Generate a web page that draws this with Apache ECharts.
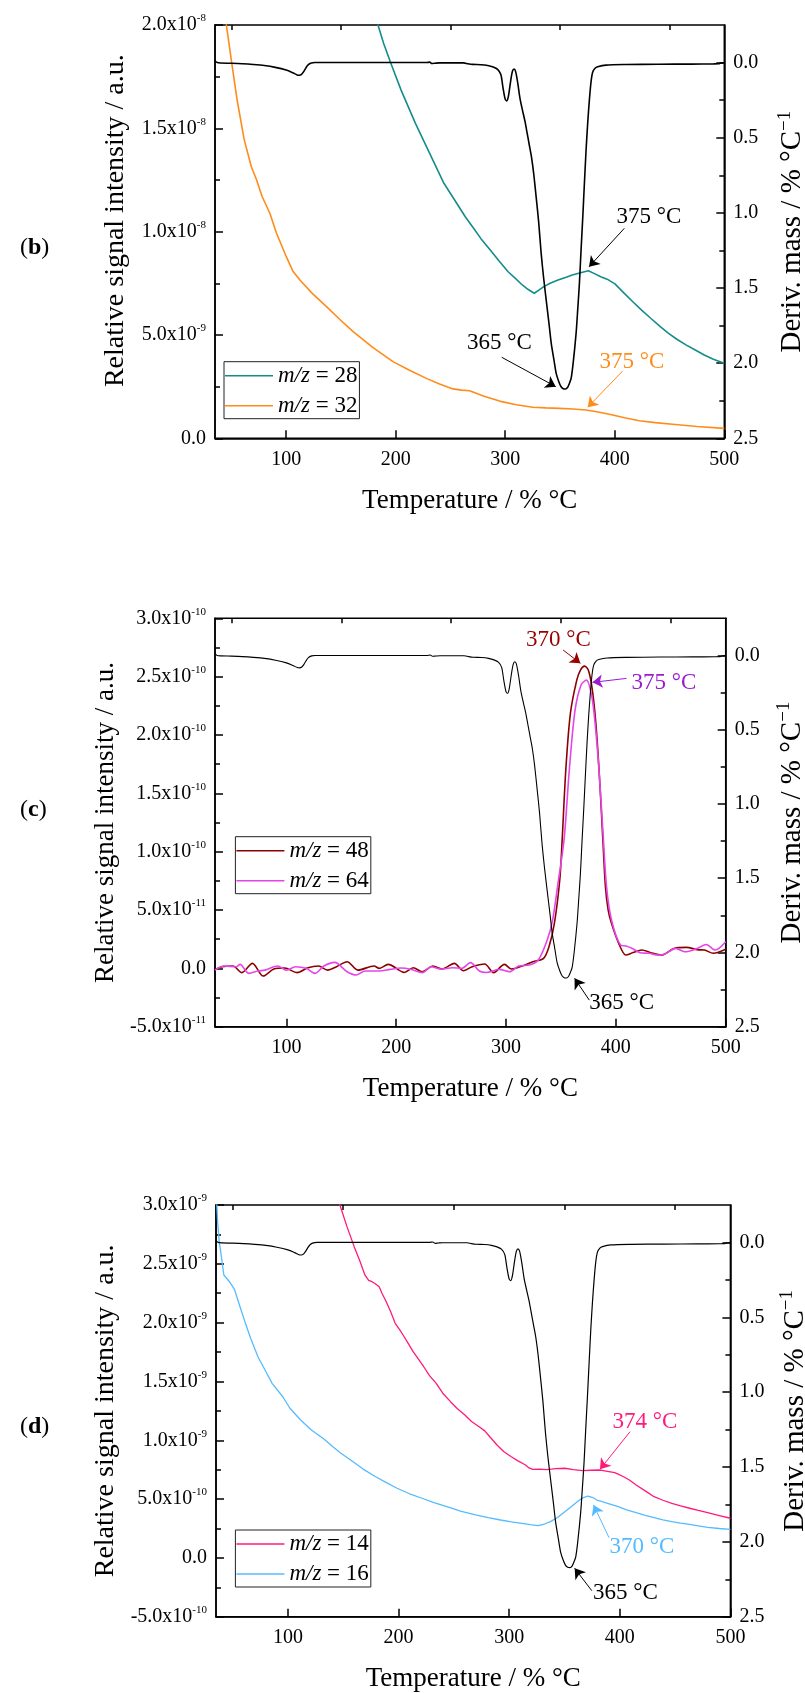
<!DOCTYPE html>
<html><head><meta charset="utf-8">
<script src="https://cdn.jsdelivr.net/npm/echarts@6/dist/echarts.min.js"></script>
<style>html,body{margin:0;padding:0;background:#fff}#c{width:805px;height:1693px}</style>
</head><body><div id="c"></div>
<script>
// ---------------- data ----------------
const xMajor = [100, 200, 300, 400, 500];
const xMinor = [50, 150, 250, 350, 450];
const rightMajor = [0, 0.5, 1.0, 1.5, 2.0, 2.5];
const rightMinor = [0.25, 0.75, 1.25, 1.75, 2.25];
const leftMajorB = [0, 5e-9, 1e-8, 1.5e-8, 2e-8];
const leftMinorB = [2.5e-9, 7.5e-9, 1.25e-8, 1.75e-8];
const leftMajorC = [-5e-11, 0, 5e-11, 1e-10, 1.5e-10, 2e-10, 2.5e-10, 3e-10];
const leftMinorC = [-2.5e-11, 2.5e-11, 7.5e-11, 1.25e-10, 1.75e-10, 2.25e-10, 2.75e-10];
const leftMajorD = [-5e-10, 0, 5e-10, 1e-9, 1.5e-9, 2e-9, 2.5e-9, 3e-9];
const leftMinorD = [-2.5e-10, 2.5e-10, 7.5e-10, 1.25e-9, 1.75e-9, 2.25e-9, 2.75e-9];

// DTG (Deriv. mass / % °C^-1), same sample in all three panels
const dtg = [[35,-0.012],[37,0.0],[40,0.003],[50,0.005],[60,0.008],[70,0.013],[80,0.02],[90,0.032],[100,0.05],[106,0.068],[110,0.082],[112,0.084],[114,0.078],[116,0.06],[118,0.035],[120,0.015],[123,0.003],[126,0.0],[150,0.0],[200,0.0],[228,0.0],[231,-0.003],[233,0.006],[236,0.004],[240,0.002],[262,0.002],[266,0.008],[270,0.012],[278,0.014],[284,0.02],[289,0.03],[293,0.045],[296,0.08],[298,0.17],[300,0.245],[301.5,0.255],[303,0.22],[305,0.12],[306.5,0.06],[308,0.043],[309.5,0.06],[311.5,0.14],[313.5,0.24],[315.7,0.316],[318,0.39],[320,0.47],[322,0.55],[324,0.63],[326,0.74],[328.3,0.9],[330.5,1.06],[332.8,1.27],[335,1.43],[337.4,1.58],[340,1.74],[342,1.868],[344.5,1.98],[346.5,2.068],[349,2.125],[351,2.157],[353,2.17],[355,2.172],[357,2.16],[358.8,2.13],[360.2,2.1],[362,2.0],[364.7,1.8],[366.2,1.64],[367.7,1.47],[369.2,1.25],[370.8,1.026],[372.3,0.8],[373.8,0.582],[375.3,0.4],[376.8,0.25],[378.3,0.13],[379.8,0.065],[382,0.038],[384.4,0.028],[392,0.017],[410,0.013],[440,0.011],[470,0.01],[490,0.009],[495,0.008],[497,0.002],[500,0.001]];

// panel (b)
const mz28 = [[180,2.12e-8],[183.8,2.0e-8],[189,1.91e-8],[195.2,1.82e-8],[204.9,1.685e-8],[218,1.524e-8],[231,1.379e-8],[244,1.234e-8],[253.8,1.153e-8],[263.5,1.072e-8],[270.1,1.024e-8],[278,0.965e-8],[286.3,0.911e-8],[294,0.86e-8],[302.6,0.806e-8],[309,0.775e-8],[315.6,0.742e-8],[321,0.72e-8],[326.5,0.702e-8],[330,0.715e-8],[335.2,0.734e-8],[341,0.75e-8],[348.2,0.766e-8],[355,0.778e-8],[361.2,0.79e-8],[368,0.8e-8],[375.8,0.811e-8],[381,0.798e-8],[387.2,0.782e-8],[393,0.77e-8],[400.2,0.747e-8],[408,0.705e-8],[416.5,0.661e-8],[424.5,0.62e-8],[432.8,0.581e-8],[441,0.543e-8],[449.1,0.508e-8],[457,0.478e-8],[465.4,0.451e-8],[473.5,0.427e-8],[481.7,0.403e-8],[490,0.383e-8],[500,0.363e-8]];
const mz32 = [[42,2.25e-8],[45.4,2.0e-8],[50.3,1.815e-8],[55.2,1.637e-8],[61.7,1.444e-8],[68.2,1.314e-8],[73,1.25e-8],[78,1.17e-8],[85.1,1.089e-8],[91,0.995e-8],[100,0.88e-8],[106,0.81e-8],[112.5,0.766e-8],[124,0.7e-8],[136.8,0.637e-8],[149,0.575e-8],[161.1,0.516e-8],[179,0.44e-8],[197.5,0.371e-8],[213,0.328e-8],[228,0.29e-8],[240,0.263e-8],[252.3,0.239e-8],[260,0.233e-8],[267.5,0.23e-8],[280,0.205e-8],[294.8,0.18e-8],[310,0.162e-8],[325.2,0.15e-8],[337,0.147e-8],[349.5,0.145e-8],[362,0.142e-8],[373.8,0.137e-8],[386,0.126e-8],[398.1,0.113e-8],[410,0.098e-8],[422.4,0.085e-8],[437,0.076e-8],[452.8,0.068e-8],[475,0.057e-8],[500,0.048e-8]];

// panel (c)
const mz48 = [[35,-0.09e-11],[41.5,0.14e-11],[51.3,0.2e-11],[59.4,-0.37e-11],[69.1,0.43e-11],[78.9,-0.66e-11],[88.6,-0.06e-11],[98.4,0.03e-11],[109.8,-0.37e-11],[119.6,0.05e-11],[129.3,0.2e-11],[137.5,-0.15e-11],[145.6,0.14e-11],[155.3,0.57e-11],[165.1,-0.15e-11],[179.8,0.2e-11],[184.6,0.0],[192.7,0.34e-11],[207.4,-0.35e-11],[215.5,0.05e-11],[223.7,-0.29e-11],[233.5,0.2e-11],[241.6,-0.06e-11],[252.9,0.43e-11],[261.1,-0.2e-11],[269.2,0.14e-11],[280.5,0.37e-11],[288.7,-0.37e-11],[298.5,0.34e-11],[305,-0.06e-11],[314.7,0.2e-11],[324.5,0.57e-11],[334.2,0.86e-11],[339.1,1.85e-11],[344,3.85e-11],[348.9,7.57e-11],[351.1,11.0e-11],[354.4,17.0e-11],[358.6,21.85e-11],[364.4,24.7e-11],[368,25.6e-11],[371.5,25.9e-11],[374.9,25.56e-11],[378.2,24.1e-11],[381.5,21.3e-11],[384.7,17.0e-11],[388,11.3e-11],[390.5,7.0e-11],[393,5.0e-11],[396,3.86e-11],[402.6,2.14e-11],[409.1,1.14e-11],[415.6,1.35e-11],[423.7,1.57e-11],[431.8,1.34e-11],[441.6,1.14e-11],[452.9,1.71e-11],[464.3,1.8e-11],[474.1,1.6e-11],[480.6,1.57e-11],[488.7,1.29e-11],[500,1.63e-11]];
const mz64 = [[35,-0.15e-11],[43.1,0.2e-11],[54.5,0.14e-11],[57.8,0.34e-11],[65.9,-0.43e-11],[74.1,-0.23e-11],[80.6,-0.15e-11],[92,0.2e-11],[100.1,-0.15e-11],[108.3,0.14e-11],[118,0.0],[126.1,-0.43e-11],[134.2,0.2e-11],[144,0.51e-11],[155.3,-0.29e-11],[163.5,-0.57e-11],[171.6,-0.23e-11],[184.6,-0.23e-11],[194.4,-0.09e-11],[204.2,0.03e-11],[213.9,-0.09e-11],[223.7,-0.37e-11],[231.8,0.14e-11],[240,-0.06e-11],[251.3,0.05e-11],[259.4,0.0],[267.7,0.49e-11],[275.7,-0.23e-11],[282.2,-0.35e-11],[293.6,-0.09e-11],[303.3,-0.29e-11],[311.5,0.2e-11],[321.2,0.28e-11],[329.4,0.71e-11],[337.5,2.43e-11],[342.4,4.14e-11],[347.3,7.28e-11],[352.8,11.0e-11],[357.6,17.0e-11],[362.8,22.1e-11],[368.4,24.3e-11],[373.2,24.7e-11],[378.1,23.3e-11],[381.4,20.7e-11],[384.6,17.0e-11],[388.5,11.3e-11],[391.5,7.0e-11],[396,4.14e-11],[404.2,2.0e-11],[409.1,1.91e-11],[415,1.71e-11],[422,1.34e-11],[430.2,1.29e-11],[438.5,1.14e-11],[444.8,1.23e-11],[454.6,1.71e-11],[462.7,1.42e-11],[474.1,1.71e-11],[482.3,2.05e-11],[490.4,1.57e-11],[500,2.28e-11]];

// panel (d)
const mz14 = [[145,31.0e-10],[147,30.0e-10],[153.4,28.16e-10],[159.9,26.46e-10],[164.7,25.32e-10],[169.6,24.05e-10],[173,23.6e-10],[176,23.48e-10],[179,23.3e-10],[182.5,23.05e-10],[185,22.5e-10],[188.9,21.78e-10],[193,20.9e-10],[197,19.94e-10],[201,19.4e-10],[205.1,18.8e-10],[209,18.2e-10],[213.2,17.53e-10],[218,16.9e-10],[222.8,16.25e-10],[228,15.5e-10],[234.1,14.84e-10],[240,14.0e-10],[247,13.28e-10],[253,12.7e-10],[260,12.15e-10],[266,11.6e-10],[272.8,11.15e-10],[278,10.8e-10],[282.5,10.3e-10],[289,9.6e-10],[295,9.05e-10],[301.9,8.6e-10],[308,8.25e-10],[314.8,7.9e-10],[318,7.65e-10],[321.3,7.53e-10],[327,7.55e-10],[334.1,7.5e-10],[342,7.58e-10],[350.3,7.62e-10],[358,7.5e-10],[366.5,7.41e-10],[374,7.45e-10],[382.5,7.47e-10],[389,7.35e-10],[395.4,7.24e-10],[399,7.1e-10],[403.5,6.9e-10],[409,6.6e-10],[414.8,6.2e-10],[423,5.7e-10],[431,5.2e-10],[439,4.9e-10],[447.1,4.64e-10],[455,4.42e-10],[463.2,4.22e-10],[471,4.03e-10],[479.4,3.84e-10],[490,3.6e-10],[500,3.37e-10]];
const mz16 = [[35,31.5e-10],[36.5,28.5e-10],[38,26.8e-10],[39,26.2e-10],[42.1,24.05e-10],[47,23.5e-10],[51.8,22.8e-10],[56.7,21.35e-10],[61.6,19.94e-10],[66.3,18.67e-10],[72.9,17.1e-10],[79.3,15.97e-10],[85.7,14.84e-10],[95.4,13.7e-10],[101.8,12.72e-10],[111.5,11.72e-10],[121.2,10.87e-10],[132.5,10.1e-10],[140.6,9.45e-10],[148,8.9e-10],[156.7,8.32e-10],[168,7.55e-10],[179.3,6.9e-10],[189,6.4e-10],[198.7,5.92e-10],[210,5.45e-10],[221.2,5.07e-10],[232,4.7e-10],[243.8,4.35e-10],[256,3.98e-10],[269.6,3.65e-10],[281,3.42e-10],[292.2,3.22e-10],[302,3.07e-10],[311.5,2.94e-10],[319,2.82e-10],[326.1,2.74e-10],[332,2.88e-10],[337.4,3.08e-10],[344,3.45e-10],[350.3,3.93e-10],[356,4.35e-10],[361.6,4.78e-10],[366,5.08e-10],[371,5.26e-10],[375,5.15e-10],[379.3,4.92e-10],[384,4.78e-10],[389,4.64e-10],[398.7,4.35e-10],[406,4.08e-10],[414.8,3.84e-10],[423,3.62e-10],[431,3.42e-10],[439,3.24e-10],[447,3.08e-10],[455,2.96e-10],[463.2,2.85e-10],[471,2.72e-10],[479.4,2.6e-10],[490,2.5e-10],[500,2.43e-10]];

// annotation texts (text, data-space label point, arrow start, arrow end)
const annB = [
  {text:'375 °C', color:'#000000', at:[431.2,1.071e-8], from:[408.7,1.016e-8], to:[376.5,0.83e-8]},
  {text:'365 °C', color:'#000000', at:[294.7,0.459e-8], from:[296.8,0.392e-8], to:[346.1,0.25e-8]},
  {text:'375 °C', color:'#ff8c1a', at:[415.7,0.369e-8], from:[407.2,0.326e-8], to:[375.3,0.150e-8]}
];
const annC = [
  {text:'370 °C', color:'#990000', at:[347.7,2.813e-10], from:[352.0,2.728e-10], to:[367.7,2.614e-10]},
  {text:'375 °C', color:'#9a1ccc', at:[443.8,2.445e-10], from:[409.6,2.485e-10], to:[378.7,2.451e-10]},
  {text:'365 °C', color:'#000000', at:[405.2,-3.0e-11], from:[375.8,-2.72e-11], to:[362.4,-0.857e-11]}
];
const annD = [
  {text:'374 °C', color:'#ff1a7a', at:[422.8,1.158e-9], from:[409.3,1.073e-9], to:[382.1,0.753e-9]},
  {text:'370 °C', color:'#55bbff', at:[420.1,0.952e-10], from:[390.3,1.717e-10], to:[376.3,4.50e-10]},
  {text:'365 °C', color:'#000000', at:[405.1,-3.01e-10], from:[374.7,-2.79e-10], to:[359.2,-0.884e-10]}
];

// ---------------- chart ----------------
const FONT = '"Liberation Serif","Times New Roman",serif';
const panels = [
  {tag:'b', grid:{left:215, top:25, width:509.3, height:413.3}, lmin:0, lmax:2e-8, lMaj:leftMajorB, lMin:leftMinorB,
   s:[{name:'m/z = 28', data:mz28, color:'#158c8c'},{name:'m/z = 32', data:mz32, color:'#ff8c1a'}], lw:1.6, dlw:1.6,
   legend:{left:224, top:361.7}, ann:annB, tagTop:231, rGap:54, lFont:28, lPad:[0,0,0,22]},
  {tag:'c', grid:{left:215, top:618.3, width:510.7, height:408.4}, lmin:-5e-11, lmax:3e-10, lMaj:leftMajorC, lMin:leftMinorC,
   s:[{name:'m/z = 48', data:mz48, color:'#8b0000'},{name:'m/z = 64', data:mz64, color:'#e645e6'}], lw:1.6, dlw:1.1,
   legend:{left:235.4, top:836.7}, ann:annC, tagTop:793, rGap:52, lFont:27, lPad:[0,0,0,0]},
  {tag:'d', grid:{left:216, top:1205, width:514.4, height:411.7}, lmin:-5e-10, lmax:3e-9, lMaj:leftMajorD, lMin:leftMinorD,
   s:[{name:'m/z = 14', data:mz14, color:'#ff1a7a'},{name:'m/z = 16', data:mz16, color:'#55bbff'}], lw:1.3, dlw:1.2,
   legend:{left:235.4, top:1530}, ann:annD, tagTop:1410, rGap:50, lFont:28, lPad:[0,0,0,0]}
];

function sci(v){
  if (Math.abs(v) < 1e-30) return '{m|0.0}';
  const e = Math.floor(Math.log10(Math.abs(v)) + 1e-9);
  const m = v / Math.pow(10, e);
  return '{m|' + m.toFixed(1) + 'x10}{s|' + e + '}';
}
const black = '#000';
const tickLS = {color:black, width:1.5};
const grids = [], xAxis = [], yAxis = [], series = [], legend = [], title = [];

panels.forEach((p, g) => {
  grids.push(Object.assign({show:true, borderColor:black, borderWidth:1.5, backgroundColor:'transparent',
    containLabel:false, outerBoundsMode:'none'}, p.grid));
  // x axes
  xAxis.push({type:'value', gridIndex:g, min:35, max:500,
    axisLine:{show:true, onZero:false, lineStyle:{color:black, width:1.5}},
    axisTick:{show:true, inside:true, length:8, customValues:xMajor, lineStyle:tickLS},
    axisLabel:{show:true, customValues:xMajor, fontSize:20, fontFamily:FONT, color:black, margin:11},
    splitLine:{show:false},
    name:'Temperature / % °C', nameLocation:'middle', nameGap:49,
    nameTextStyle:{fontSize:27, fontFamily:FONT, color:black}});
  xAxis.push({type:'value', gridIndex:g, min:35, max:500,
    axisLine:{show:false, onZero:false}, axisTick:{show:true, inside:true, length:5, customValues:xMinor, lineStyle:tickLS},
    axisLabel:{show:false}, splitLine:{show:false}});
  // y axes: left main, left minor, right main, right minor
  yAxis.push({type:'value', gridIndex:g, position:'left', min:p.lmin, max:p.lmax,
    axisLine:{show:true, onZero:false, lineStyle:{color:black, width:1.5}},
    axisTick:{show:true, inside:true, length:8, customValues:p.lMaj, lineStyle:tickLS},
    axisLabel:{show:true, customValues:p.lMaj, margin:9, formatter:sci, color:black,
      rich:{m:{fontSize:20, fontFamily:FONT, color:black, lineHeight:20, verticalAlign:'bottom'},
            s:{fontSize:11, fontFamily:FONT, color:black, lineHeight:11, verticalAlign:'bottom', padding:[0,0,11,0]}}},
    splitLine:{show:false},
    name:'Relative signal intensity / a.u.', nameLocation:'middle', nameGap:85, nameRotate:90,
    nameTextStyle:{fontSize:p.lFont, fontFamily:FONT, color:black, padding:p.lPad}});
  yAxis.push({type:'value', gridIndex:g, position:'left', min:p.lmin, max:p.lmax,
    axisLine:{show:false, onZero:false}, axisTick:{show:true, inside:true, length:5, customValues:p.lMin, lineStyle:tickLS},
    axisLabel:{show:false}, splitLine:{show:false}});
  yAxis.push({type:'value', gridIndex:g, position:'right', inverse:true, min:-0.25, max:2.5,
    axisLine:{show:true, onZero:false, lineStyle:{color:black, width:1.5}},
    axisTick:{show:true, inside:true, length:8, customValues:rightMajor, lineStyle:tickLS},
    axisLabel:{show:true, customValues:rightMajor, margin:9, fontSize:20, fontFamily:FONT, color:black,
      formatter:v => v.toFixed(1)},
    splitLine:{show:false},
    name:'Deriv. mass / % °C{s|−1}', nameLocation:'middle', nameGap:p.rGap, nameRotate:90,
    nameTextStyle:{fontSize:29, fontFamily:FONT, color:black,
      rich:{s:{fontSize:19, fontFamily:FONT, color:black, verticalAlign:'bottom', lineHeight:19, padding:[0,0,13,0]}}}});
  yAxis.push({type:'value', gridIndex:g, position:'right', inverse:true, min:-0.25, max:2.5,
    axisLine:{show:false, onZero:false}, axisTick:{show:true, inside:true, length:5, customValues:rightMinor, lineStyle:tickLS},
    axisLabel:{show:false}, splitLine:{show:false}});

  const xi = 2*g, yl = 4*g, yr = 4*g + 2;
  series.push({name:'DTG ('+p.tag+')', type:'line', xAxisIndex:xi, yAxisIndex:yr, data:dtg,
    symbol:'none', smooth:0.25, lineStyle:{color:black, width:p.dlw}, itemStyle:{color:black}, z:3});
  p.s.forEach((s, k) => {
    const ser = {name:s.name, type:'line', xAxisIndex:xi, yAxisIndex:yl, data:s.data,
      symbol:'none', smooth: g === 1 ? 0.3 : false, lineStyle:{color:s.color, width:p.lw}, itemStyle:{color:s.color}, z:2};
    if (k === 0) {
      ser.markLine = {silent:true, animation:false, label:{show:false},
        data: p.ann.map(a => [
          {coord:a.from, symbol:'none', lineStyle:{color:a.color, width:1, type:'solid'}},
          {coord:a.to, symbol:'arrow', symbolSize:10, lineStyle:{color:a.color, width:1, type:'solid'}}
        ])};
      ser.markPoint = {silent:true, animation:false, symbol:'rect', symbolSize:1,
        itemStyle:{color:'rgba(0,0,0,0)'},
        data: p.ann.map(a => ({name:a.text, coord:a.at,
          label:{show:true, position:'inside', formatter:'{b}', fontSize:23, fontFamily:FONT, color:a.color}}))};
    }
    series.push(ser);
  });

  legend.push({data:p.s.map(s => s.name), left:p.legend.left, top:p.legend.top, orient:'vertical',
    icon:'rect', itemWidth:48, itemHeight:p.lw, itemGap:6, padding:[2,2,1,1], borderColor:'#222', borderWidth:1,
    selectedMode:false,
    formatter: n => n.replace('m/z', '{i|m/z}'),
    textStyle:{fontSize:23, fontFamily:FONT, color:black, lineHeight:24,
      rich:{i:{fontSize:23, fontFamily:FONT, fontStyle:'italic', color:black, lineHeight:24}}}});

  title.push({text:'({b|' + p.tag + '})', left:15, top:p.tagTop,
    textStyle:{fontSize:24, fontWeight:'normal', fontFamily:FONT, color:black,
      rich:{b:{fontSize:24, fontWeight:'bold', fontFamily:FONT, color:black}}}});
});

const chart = echarts.init(document.getElementById('c'), null, {renderer:'canvas'});
chart.setOption({animation:false, backgroundColor:'#fff', title, grid:grids, xAxis, yAxis, legend, series});
</script></body></html>
